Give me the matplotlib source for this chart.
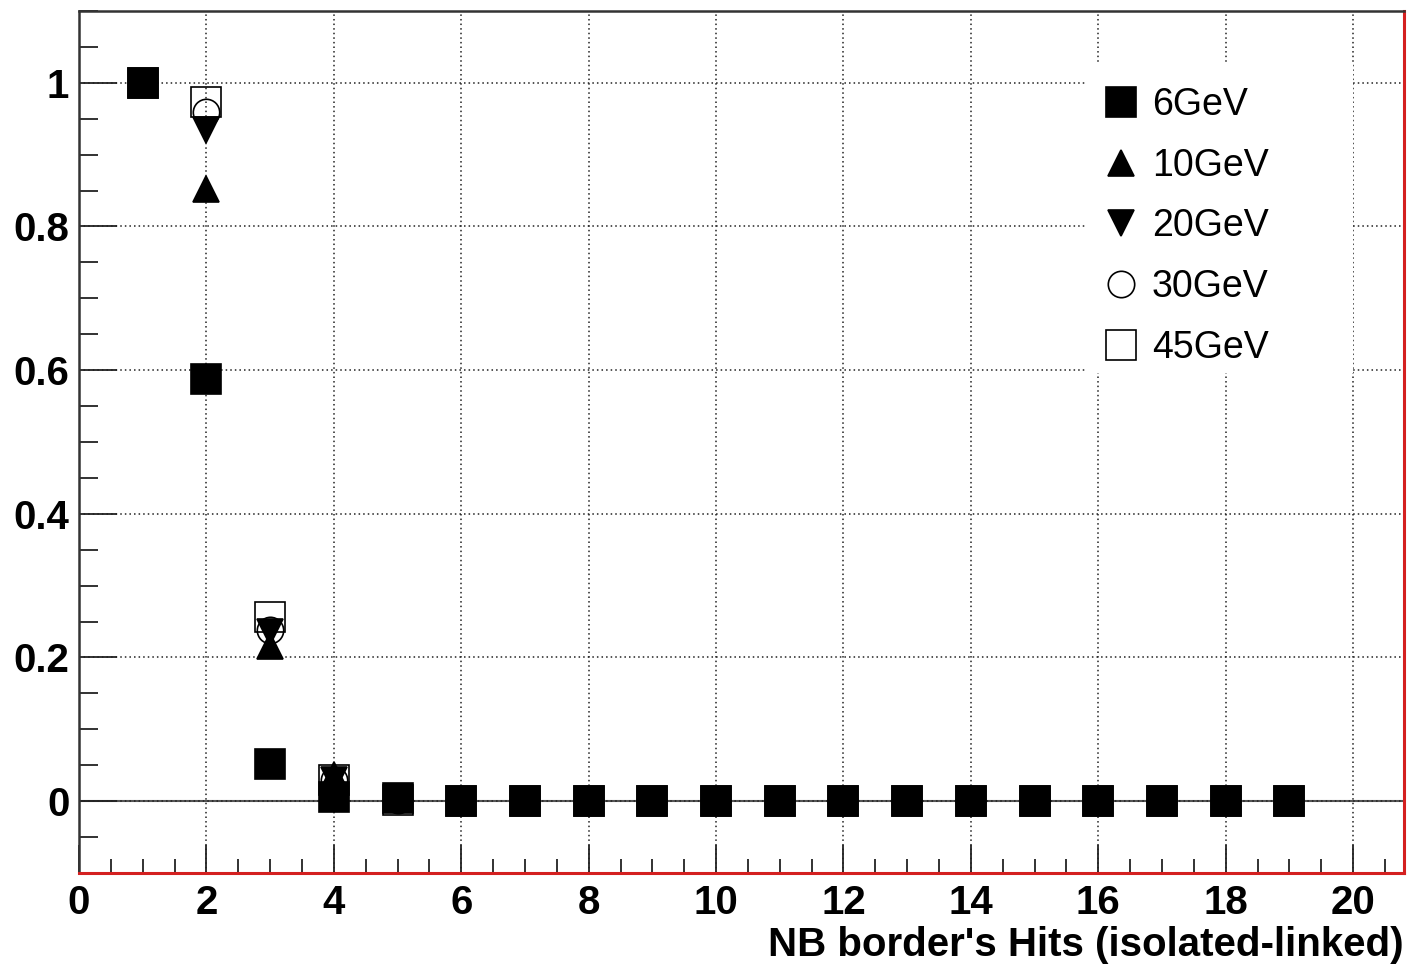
#!/usr/bin/env python3
"""Fraction vs NB border's hits (isolated-linked), ROOT-style."""

import numpy as np
import matplotlib
matplotlib.use("Agg")
import matplotlib.pyplot as plt
from matplotlib.patches import Rectangle
from matplotlib.ticker import MultipleLocator

plt.rcParams["font.family"] = ["Liberation Sans", "DejaVu Sans"]

hits = np.arange(1, 20)

e6 = [1.0, 0.587, 0.052, 0.006, 0.004, 0, 0, 0, 0, 0, 0, 0, 0, 0, 0, 0, 0, 0, 0]
e10 = [1.0, 0.852, 0.216, 0.036, 0.003, 0, 0, 0, 0, 0, 0, 0, 0, 0, 0, 0, 0, 0, 0]
e20 = [1.0, 0.935, 0.235, 0.030, 0.002, 0, 0, 0, 0, 0, 0, 0, 0, 0, 0, 0, 0, 0, 0]
e30 = [1.0, 0.960, 0.238, 0.030, 0.002, 0, 0, 0, 0, 0, 0, 0, 0, 0, 0, 0, 0, 0, 0]
e45 = [1.0, 0.974, 0.256, 0.030, 0.002, 0, 0, 0, 0, 0, 0, 0, 0, 0, 0, 0, 0, 0, 0]

series = [
    ("6GeV", e6, "s", 21, "black"),
    ("10GeV", e10, "^", 19, "black"),
    ("20GeV", e20, "v", 19, "black"),
    ("30GeV", e30, "o", 19, "none"),
    ("45GeV", e45, "s", 21, "none"),
]

fig = plt.figure(figsize=(14.09, 9.64), dpi=100)
ax = fig.add_axes([0.0561, 0.0944, 0.9404, 0.8942])

ax.set_xlim(0, 20.8)
ax.set_ylim(-0.1, 1.1)
ax.xaxis.set_major_locator(MultipleLocator(2))
ax.xaxis.set_minor_locator(MultipleLocator(0.5))
ax.yaxis.set_major_locator(MultipleLocator(0.2))
ax.yaxis.set_minor_locator(MultipleLocator(0.05))
ax.set_yticks(np.arange(0, 1.01, 0.2))
ax.set_yticklabels(["0", "0.2", "0.4", "0.6", "0.8", "1"])

ax.grid(True, which="major", linestyle=(0, (1, 2)), color="#222222", linewidth=1.1)
ax.axhline(0, color="#555555", linewidth=1.5, zorder=1.5)

ax.tick_params(axis="x", which="major", direction="in", length=20, width=1.3,
               labelsize=29, pad=8, colors="#222222")
ax.tick_params(axis="x", which="minor", direction="in", length=10, width=1.3, colors="#222222")
ax.tick_params(axis="y", which="major", direction="in", length=27, width=1.3,
               labelsize=29, pad=7, colors="#222222")
ax.tick_params(axis="y", which="minor", direction="in", length=14, width=1.3, colors="#222222")
for lab in ax.get_xticklabels() + ax.get_yticklabels():
    lab.set_fontweight("bold")
    lab.set_color("black")

for side in ["left", "top"]:
    ax.spines[side].set_color("#333333")
    ax.spines[side].set_linewidth(1.8)
for side in ["bottom", "right"]:
    ax.spines[side].set_color("#d42020")
    ax.spines[side].set_linewidth(2.2)

for label, vals, mk, ms, fc in series:
    ax.plot(hits, vals, linestyle="none", marker=mk, markersize=ms,
            markerfacecolor=fc, markeredgecolor="black", markeredgewidth=1.2,
            label=label, zorder=3)

# white legend pad hiding the grid
ax.add_patch(Rectangle((0.759, 0.580), 0.2025, 0.361, transform=ax.transAxes,
                       facecolor="white", edgecolor="none", zorder=2.5))
leg = ax.legend(loc="upper left", bbox_to_anchor=(0.741, 0.951), frameon=False,
                fontsize=27, handletextpad=0.12, labelspacing=0.66,
                handlelength=1.4, markerscale=1.0)
leg.set_zorder(4)

ax.set_xlabel("NB border's Hits (isolated-linked)", fontsize=29, fontweight="bold",
              loc="right", labelpad=3)

fig.savefig("out.png", dpi=100)
